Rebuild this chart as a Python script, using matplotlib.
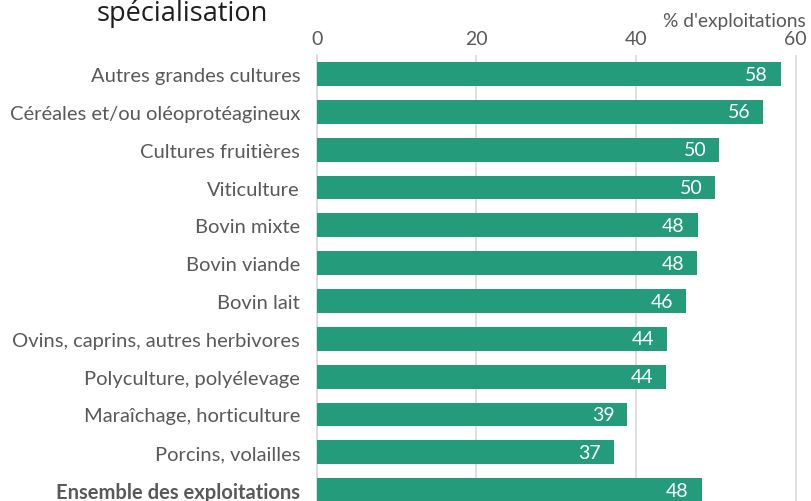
import matplotlib.pyplot as plt

categories = [
    "Autres grandes cultures",
    "Céréales et/ou oléoprotéagineux",
    "Cultures fruitières",
    "Viticulture",
    "Bovin mixte",
    "Bovin viande",
    "Bovin lait",
    "Ovins, caprins, autres herbivores",
    "Polyculture, polyélevage",
    "Maraîchage, horticulture",
    "Porcins, volailles",
    "Ensemble des exploitations",
]
values = [58.1, 55.9, 50.4, 49.9, 47.7, 47.6, 46.2, 43.9, 43.7, 38.9, 37.2, 48.2]
labels = ["58", "56", "50", "50", "48", "48", "46", "44", "44", "39", "37", "48"]
xticks = [0, 20, 40, 60]

plt.rcParams['font.family'] = ['Lato', 'DejaVu Sans']

fig = plt.figure(figsize=(8.12, 5.02), dpi=100)
ax = fig.add_axes([0.390, -0.016, 0.593, 0.904])

pos = list(range(len(categories)))
ax.barh(pos, values, height=0.63, color='#249C7B', zorder=3)
for p, v, lab in zip(pos, values, labels):
    ax.text(v - 1.6, p, lab, ha='right', va='center', color='white', fontsize=14, zorder=4)

ax.set_ylim(len(categories) - 0.5, -0.5)
ax.set_xlim(0, 60.3)
ax.set_yticks(pos)
ax.set_yticklabels(categories, fontsize=14.5, color='#595959')
ax.get_yticklabels()[-1].set_fontweight('bold')
ax.tick_params(axis='y', length=0, pad=12)

ax.xaxis.tick_top()
ax.set_xticks(xticks)
ax.set_xticklabels([str(t) for t in xticks], fontsize=14, color='#595959')
ax.tick_params(axis='x', length=0, pad=6)
ax.grid(axis='x', color='#d9d9d9', linewidth=1.2, zorder=0)

for s in ['top', 'right', 'bottom']:
    ax.spines[s].set_visible(False)
ax.spines['left'].set_color('#d9d9d9')
ax.spines['left'].set_linewidth(1.2)

fig.text(0.992, 0.958, "% d'exploitations", ha='right', va='center', fontsize=13.8, color='#595959')
fig.text(0.119, 0.972, "spécialisation", ha='left', va='center', fontsize=19.5,
         color='#1e1e1e', family=['Open Sans', 'DejaVu Sans'])

fig.savefig('out.png', dpi=100)
